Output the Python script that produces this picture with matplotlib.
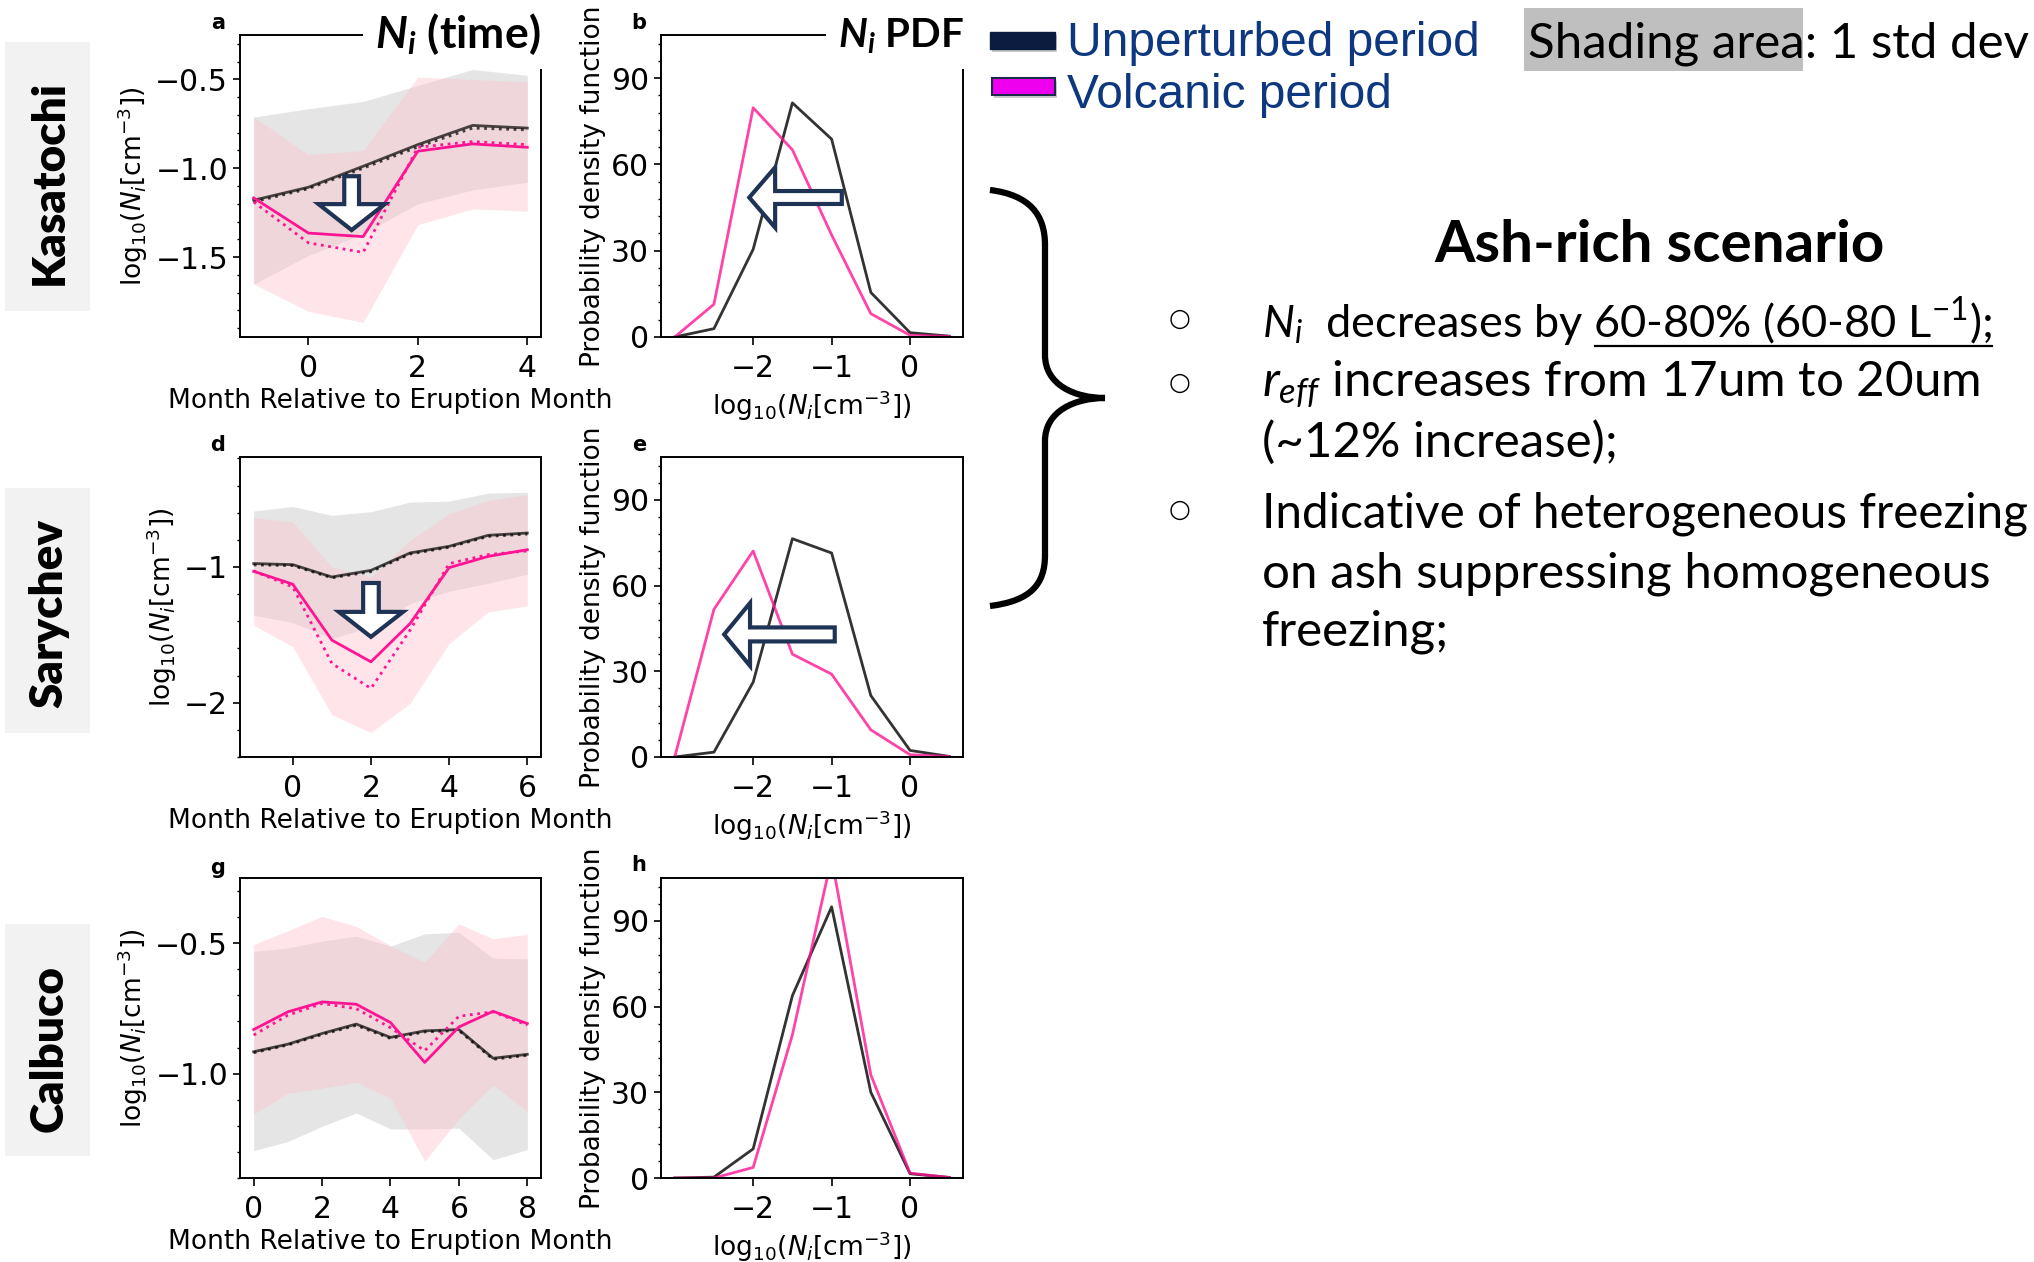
import matplotlib
matplotlib.use('Agg')
import matplotlib.pyplot as plt
from matplotlib.ticker import AutoMinorLocator, MultipleLocator
from matplotlib.patches import FancyArrow, Rectangle, PathPatch
from matplotlib.path import Path
from matplotlib.lines import Line2D

# fonts for the "slide" texts (mathtext custom set -> Lato)
plt.rcParams['mathtext.rm'] = 'Lato'
plt.rcParams['mathtext.it'] = 'Lato:italic'
plt.rcParams['mathtext.bf'] = 'Lato:bold'
plt.rcParams['mathtext.sf'] = 'Lato:italic:bold'

# ---- Kasatochi (a, b) ----
months_a = [-1, 0, 1, 2, 3, 4]
unp_a = [-1.18, -1.107, -0.989, -0.867, -0.759, -0.774]
unp_a_dot = [-1.19, -1.115, -1.0, -0.88, -0.774, -0.784]
unp_a_hi = [-0.712, -0.665, -0.624, -0.534, -0.444, -0.477]
unp_a_lo = [-1.652, -1.492, -1.37, -1.20, -1.122, -1.079]
vol_a = [-1.167, -1.365, -1.385, -0.904, -0.863, -0.882]
vol_a_dot = [-1.19, -1.42, -1.474, -0.882, -0.85, -0.867]
vol_a_hi = [-0.712, -0.923, -0.90, -0.487, -0.50, -0.515]
vol_a_lo = [-1.652, -1.806, -1.868, -1.318, -1.229, -1.242]

# ---- Sarychev (d, e) ----
months_d = [-1, 0, 1, 2, 3, 4, 5, 6]
unp_d = [-0.975, -0.983, -1.074, -1.025, -0.897, -0.848, -0.767, -0.75]
unp_d_dot = [-0.985, -0.99, -1.08, -1.035, -0.905, -0.855, -0.775, -0.758]
unp_d_hi = [-0.588, -0.554, -0.62, -0.593, -0.522, -0.515, -0.456, -0.449]
unp_d_lo = [-1.355, -1.41, -1.527, -1.441, -1.27, -1.179, -1.12, -1.054]
vol_d = [-1.032, -1.127, -1.539, -1.699, -1.417, -1.005, -0.922, -0.873]
vol_d_dot = [-1.03, -1.147, -1.711, -1.895, -1.466, -0.975, -0.909, -0.882]
vol_d_hi = [-0.637, -0.669, -1.0, -1.074, -0.804, -0.608, -0.51, -0.466]
vol_d_lo = [-1.429, -1.588, -2.09, -2.22, -2.005, -1.564, -1.331, -1.287]

# ---- Calbuco (g, h) ----
months_g = [0, 1, 2, 3, 4, 5, 6, 7, 8]
unp_g = [-0.916, -0.887, -0.846, -0.81, -0.861, -0.836, -0.831, -0.941, -0.926]
unp_g_dot = [-0.92, -0.89, -0.85, -0.815, -0.865, -0.84, -0.835, -0.945, -0.93]
unp_g_hi = [-0.532, -0.518, -0.492, -0.473, -0.511, -0.464, -0.458, -0.557, -0.56]
unp_g_lo = [-1.295, -1.26, -1.202, -1.151, -1.212, -1.212, -1.209, -1.33, -1.291]
vol_g = [-0.831, -0.763, -0.725, -0.734, -0.804, -0.957, -0.821, -0.761, -0.808]
vol_g_dot = [-0.852, -0.776, -0.731, -0.751, -0.824, -0.912, -0.78, -0.763, -0.814]
vol_g_hi = [-0.505, -0.452, -0.397, -0.436, -0.509, -0.573, -0.426, -0.483, -0.466]
vol_g_lo = [-1.155, -1.075, -1.056, -1.033, -1.094, -1.336, -1.173, -1.043, -1.145]

# ---- PDFs ----
bins = [-3, -2.5, -2, -1.5, -1, -0.5, 0, 0.5]
pdf_unp_b = [0, 2.9, 30.5, 81.4, 68.8, 15.5, 1.5, 0.3]
pdf_vol_b = [0, 11.4, 79.7, 65.1, 35.5, 8.1, 0.6, 0.2]
pdf_unp_e = [0, 1.7, 26.2, 76.4, 71.4, 21.5, 2.3, 0.2]
pdf_vol_e = [0, 51.7, 72.1, 36.0, 29.0, 9.5, 0.8, 0.2]
pdf_unp_h = [0, 0.3, 10.2, 63.8, 94.9, 30.0, 1.5, 0.2]
pdf_vol_h = [0, 0, 3.7, 50.1, 112, 36.1, 1.7, 0.2]

volcanoes = ['Kasatochi', 'Sarychev', 'Calbuco']

W, H = 2034, 1262
fig = plt.figure(figsize=(W / 100, H / 100), dpi=100)


def fx(x):
    return x / W


def fy(y):
    return 1 - y / H


def new_ax(l, t, r, b):
    return fig.add_axes([fx(l), fy(b), (r - l) / W, (b - t) / H])


def style(ax, ystep):
    ax.yaxis.set_major_locator(MultipleLocator(ystep))
    ax.yaxis.set_minor_locator(AutoMinorLocator(5))
    ax.tick_params(which='major', length=5, width=1.2, labelsize=21.5)
    ax.tick_params(which='minor', length=2.5, width=1.0)
    ax.tick_params(axis='x', which='major', length=6, pad=6)
    for s in ax.spines.values():
        s.set_linewidth(1.4)


def time_panel(ax, m, unp, unp_dot, unp_lo, unp_hi, vol, vol_dot, vol_lo, vol_hi,
               ylim, ystep, xticks):
    ax.fill_between(m, unp_lo, unp_hi, color='gray', alpha=0.2, lw=0)
    ax.fill_between(m, vol_lo, vol_hi, color='pink', alpha=0.4, lw=0)
    ax.plot(m, unp, color='black', alpha=0.7, lw=2)
    ax.plot(m, unp_dot, color='black', alpha=0.7, lw=2, ls=':')
    ax.plot(m, vol, color='deeppink', lw=2)
    ax.plot(m, vol_dot, color='deeppink', lw=2, ls=':')
    ax.set_ylim(*ylim)
    ax.set_xticks(xticks)
    ax.set_xlabel('Month Relative to Eruption Month', fontsize=19)
    ax.set_ylabel(r'log$_{10}$($N_i$[cm$^{-3}$])', fontsize=19)
    style(ax, ystep)


def pdf_panel(ax, unp, vol):
    ax.plot(bins, unp, color='black', alpha=0.8, lw=2)
    ax.plot(bins, vol, color='deeppink', alpha=0.8, lw=2)
    ax.set_ylim(0, 105)
    ax.set_xticks([-2, -1, 0])
    ax.set_xlabel(r'log$_{10}$($N_i$[cm$^{-3}$])', fontsize=19)
    ax.set_ylabel('Probability density function', fontsize=19)
    style(ax, 30)


ax_a = new_ax(240, 35, 541, 337)
ax_b = new_ax(661, 35, 963, 337)
ax_d = new_ax(240, 457, 541, 757)
ax_e = new_ax(661, 457, 963, 757)
ax_g = new_ax(240, 878, 541, 1178)
ax_h = new_ax(661, 878, 963, 1178)

time_panel(ax_a, months_a, unp_a, unp_a_dot, unp_a_lo, unp_a_hi,
           vol_a, vol_a_dot, vol_a_lo, vol_a_hi, (-1.95, -0.25), 0.5, [0, 2, 4])
time_panel(ax_d, months_d, unp_d, unp_d_dot, unp_d_lo, unp_d_hi,
           vol_d, vol_d_dot, vol_d_lo, vol_d_hi, (-2.40, -0.19), 1, [0, 2, 4, 6])
time_panel(ax_g, months_g, unp_g, unp_g_dot, unp_g_lo, unp_g_hi,
           vol_g, vol_g_dot, vol_g_lo, vol_g_hi, (-1.40, -0.25), 0.5, [0, 2, 4, 6, 8])
pdf_panel(ax_b, pdf_unp_b, pdf_vol_b)
pdf_panel(ax_e, pdf_unp_e, pdf_vol_e)
pdf_panel(ax_h, pdf_unp_h, pdf_vol_h)

# hollow arrows
arrow_kw = dict(length_includes_head=True, fc='white', ec='#1f3354', lw=3, zorder=6)
ax_a.add_patch(FancyArrow(0.79, -1.045, 0, -0.303, width=0.27, head_width=1.21,
                          head_length=0.146, **arrow_kw))
ax_d.add_patch(FancyArrow(2.0, -1.118, 0, -0.397, width=0.4, head_width=1.64,
                          head_length=0.184, **arrow_kw))
ax_b.add_patch(FancyArrow(-0.87, 48.5, -1.18, 0, width=4.5, head_width=20.9,
                          head_length=0.33, **arrow_kw))
ax_e.add_patch(FancyArrow(-0.96, 42.9, -1.41, 0, width=4.9, head_width=22,
                          head_length=0.33, **arrow_kw))

# panel letters
for letter, (x, y) in zip('abdegh', [(218, 23), (639, 23), (218, 445), (639, 445),
                                     (218, 868), (639, 865)]):
    fig.text(fx(x), fy(y), letter, ha='center', va='center', fontweight='bold', fontsize=15)

# column titles
title_kw = dict(family='Lato', fontweight='bold', math_fontfamily='custom',
                va='baseline', bbox=dict(fc='white', ec='none', pad=9), zorder=10)
fig.text(fx(375), fy(48), r'$\mathsf{N_i}$ (time)', fontsize=32, **title_kw)
fig.text(fx(838), fy(48), r'$\mathsf{N_i}$ PDF', fontsize=29, **title_kw)

# row labels
for name, (top, bot, yc) in zip(volcanoes, [(42, 311, 182), (488, 733, 613), (924, 1156, 1048)]):
    fig.add_artist(Rectangle((fx(5), fy(bot)), 85 / W, (bot - top) / H,
                             transform=fig.transFigure, fc='#f2f2f2', ec='none'))
    fig.text(fx(49), fy(yc), name, rotation=90, ha='center', va='center',
             family='Lato', fontweight='heavy', fontsize=33)

# legend
fig.add_artist(Rectangle((fx(992), fy(52)), 65 / W, 17 / H, transform=fig.transFigure,
                         fc='#9a9a9a', ec='none', alpha=0.5))
fig.add_artist(Rectangle((fx(990), fy(49)), 65 / W, 17 / H, transform=fig.transFigure,
                         fc='#0c1c40', ec='#0c1c40', lw=1))
fig.add_artist(Rectangle((fx(994), fy(98)), 63 / W, 17 / H, transform=fig.transFigure,
                         fc='#9a9a9a', ec='none', alpha=0.5))
fig.add_artist(Rectangle((fx(992), fy(95)), 63 / W, 17 / H, transform=fig.transFigure,
                         fc='#ee00ee', ec='#1a2a4a', lw=1.5))
fig.text(fx(1067), fy(56), 'Unperturbed period', family='Liberation Sans', fontsize=34.5,
         color='#0d3880', va='baseline')
fig.text(fx(1067), fy(108), 'Volcanic period', family='Liberation Sans', fontsize=34.5,
         color='#0d3880', va='baseline')

fig.add_artist(Rectangle((fx(1524), fy(71)), 279 / W, 63 / H, transform=fig.transFigure,
                         fc='#bfbfbf', ec='none'))
fig.text(fx(1528), fy(57), 'Shading area: 1 std dev', family='Lato', fontsize=35.5,
         va='baseline')

# curly brace
bx = [(990, 190), (1030, 195), (1045, 215), (1045, 245), (1045, 355),
      (1045, 385), (1075, 398), (1105, 398),
      (1075, 398), (1045, 411), (1045, 441), (1045, 555),
      (1045, 585), (1030, 601), (990, 606)]
codes = [Path.MOVETO, Path.CURVE4, Path.CURVE4, Path.CURVE4, Path.LINETO,
         Path.CURVE4, Path.CURVE4, Path.CURVE4,
         Path.CURVE4, Path.CURVE4, Path.CURVE4, Path.LINETO,
         Path.CURVE4, Path.CURVE4, Path.CURVE4]
brace = Path([(fx(x), fy(y)) for x, y in bx], codes)
fig.add_artist(PathPatch(brace, transform=fig.transFigure, fc='none', ec='black',
                         lw=4.5, joinstyle='miter'))

# scenario text
fig.text(fx(1660), fy(262), 'Ash-rich scenario', family='Lato', fontweight='bold',
         fontsize=42, ha='center', va='baseline')
body_kw = dict(family='Lato', math_fontfamily='custom', va='baseline')
lines = [r'$N_i$  decreases by 60-80% (60-80 L$^{\mathregular{-1}}$);',
         r'$r_{eff}$ increases from 17um to 20um',
         '(~12% increase);',
         'Indicative of heterogeneous freezing',
         'on ash suppressing homogeneous',
         'freezing;']
baselines = [337, 397, 457, 527, 587, 646]
sizes = [32.5, 35.5, 35.5, 34.3, 35.5, 35.5]
texts = [fig.text(fx(1262), fy(yb), s, fontsize=fs, **body_kw)
         for s, yb, fs in zip(lines, baselines, sizes)]
for yb in [319, 383, 510]:
    fig.text(fx(1180), fy(yb), '\u25cb', family='DejaVu Sans', fontsize=18,
             ha='center', va='center')

# underline of the numbers in the first line
renderer = fig.canvas.get_renderer()
tmp = fig.text(fx(1262), fy(337), r'$N_i$  decreases by ', fontsize=sizes[0], **body_kw)
w_pre = tmp.get_window_extent(renderer).width
tmp.remove()
bb = texts[0].get_window_extent(renderer)
fig.add_artist(Line2D([fx(1262 + w_pre + 11), fx(bb.x1)], [fy(346), fy(346)],
                      transform=fig.transFigure, color='black', lw=1.6))

fig.savefig('out.png', dpi=100)
